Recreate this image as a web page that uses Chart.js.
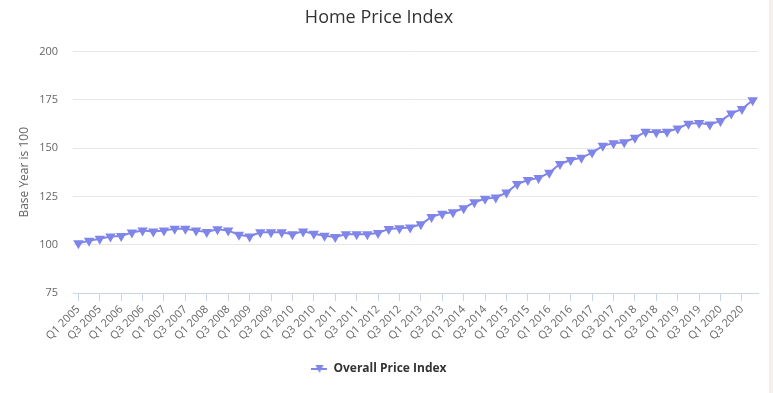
<!DOCTYPE html>
<html>
<head>
<meta charset="utf-8">
<script src="https://cdn.jsdelivr.net/npm/chart.js@4/dist/chart.umd.min.js"></script>
<style>
  html, body { margin: 0; padding: 0; background: #f3f0e9; }
  #wrap { width: 769px; height: 393px; background: #fff; }
</style>
</head>
<body>
<div id="wrap"><canvas id="chart"></canvas></div>
<script>
// Home price index, quarterly, Q1 2005 .. Q4 2020

const years = [2005, 2006, 2007, 2008, 2009, 2010, 2011, 2012,
               2013, 2014, 2015, 2016, 2017, 2018, 2019, 2020];
const quarters = [];
for (const y of years) {
  for (let q = 1; q <= 4; q++) quarters.push("Q" + q + " " + y);
}

const priceIndex = [
  100.7, 102.1, 103.1, 104.2, 104.5, 106.3, 107.3, 106.9,
  107.3, 108.3, 108.3, 107.3, 106.6, 108.0, 107.3, 105.2,
  104.3, 106.4, 106.4, 106.4, 105.4, 106.9, 105.7, 104.7,
  104.0, 105.4, 105.4, 105.4, 106.1, 108.2, 108.5, 108.9,
  110.6, 114.4, 116.1, 116.8, 118.9, 122.0, 123.8, 124.5,
  127.0, 131.4, 133.5, 134.5, 137.3, 141.8, 143.9, 145.0,
  147.7, 151.2, 152.6, 153.0, 155.4, 158.5, 158.2, 158.5,
  160.2, 162.7, 163.0, 162.3, 164.1, 167.9, 170.3, 174.8
];

const yTicks = [75, 100, 125, 150, 175, 200];

const FONT = "'Open Sans', 'DejaVu Sans', sans-serif";
const LINE_COLOR = "#8085e9";

// legend symbol: short line with a down triangle on it
function legendSymbol() {
  const c = document.createElement("canvas");
  c.width = 16;
  c.height = 10;
  const g = c.getContext("2d");
  g.strokeStyle = LINE_COLOR;
  g.lineWidth = 2;
  g.beginPath();
  g.moveTo(0, 5);
  g.lineTo(16, 5);
  g.stroke();
  g.fillStyle = LINE_COLOR;
  g.beginPath();
  g.moveTo(4, 1);
  g.lineTo(12, 1);
  g.lineTo(8, 9);
  g.closePath();
  g.fill();
  return c;
}
const symbol = legendSymbol();

new Chart(document.getElementById("chart"), {
  type: "line",
  data: {
    labels: quarters,
    datasets: [{
      label: "Overall Price Index",
      data: priceIndex,
      borderColor: LINE_COLOR,
      backgroundColor: LINE_COLOR,
      borderWidth: 2,
      pointStyle: "triangle",
      pointRotation: 180,
      pointRadius: 4,
      pointHoverRadius: 5,
      tension: 0
    }]
  },
  options: {
    responsive: true,
    maintainAspectRatio: false,
    animation: false,
    layout: { padding: { left: 0, right: 11, top: 0, bottom: 8 } },
    plugins: {
      title: {
        display: true,
        text: "Home Price Index",
        color: "#333333",
        font: { family: FONT, size: 18, weight: "normal" },
        padding: { top: 7, bottom: 23 }
      },
      legend: {
        position: "bottom",
        labels: {
          usePointStyle: true,
          pointStyleWidth: 16,
          color: "#333333",
          font: { family: FONT, size: 12, weight: "bold" },
          boxHeight: 10,
          padding: 10,
          generateLabels: chart =>
            Chart.defaults.plugins.legend.labels.generateLabels(chart).map(l => ({
              ...l, pointStyle: symbol, rotation: 0
            }))
        }
      },
      tooltip: { enabled: true }
    },
    scales: {
      x: {
        type: "category",
        offset: true,
        grid: {
          offset: false,
          drawOnChartArea: false,
          tickLength: 8,
          color: ctx => (ctx.index % 2 === 0 ? "#ccd6eb" : "rgba(0,0,0,0)")
        },
        border: { display: true, color: "#ccd6eb", width: 1 },
        ticks: {
          autoSkip: false,
          maxRotation: 45,
          minRotation: 45,
          padding: 2,
          color: "#666666",
          font: { family: FONT, size: 11 },
          callback: function (val, i) { return i % 2 === 0 ? quarters[i] : ""; }
        },
        afterFit: s => { s.height = 60; }
      },
      y: {
        min: 75,
        max: 200,
        afterBuildTicks: s => { s.ticks = yTicks.map(v => ({ value: v })); },
        grid: { color: "#e6e6e6", drawTicks: false },
        border: { display: false },
        ticks: {
          padding: 15,
          color: "#666666",
          font: { family: FONT, size: 11 }
        },
        title: {
          display: true,
          text: "Base Year is 100",
          color: "#666666",
          font: { family: FONT, size: 12 },
          padding: { top: 17, bottom: 0 }
        },
        afterFit: s => { s.width = 73; }
      }
    }
  }
});
</script>
</body>
</html>
